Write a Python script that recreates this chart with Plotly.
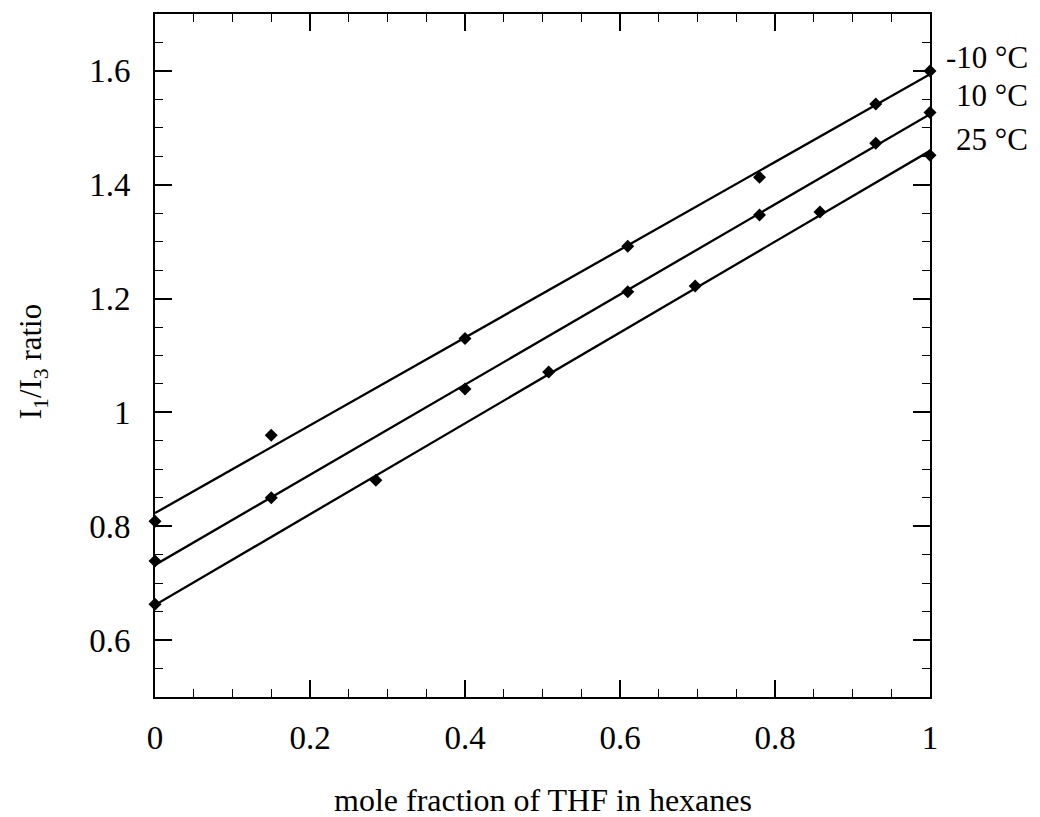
import numpy as np
import plotly.graph_objects as go

# mole fraction of THF in hexanes, and measured I1/I3 ratios per temperature
x_m10 = [0.0, 0.15, 0.40, 0.61, 0.78, 0.93, 1.0]
y_m10 = [0.809, 0.96, 1.13, 1.292, 1.413, 1.542, 1.60]

x_p10 = [0.0, 0.15, 0.40, 0.61, 0.78, 0.93, 1.0]
y_p10 = [0.739, 0.85, 1.041, 1.212, 1.347, 1.473, 1.527]

x_p25 = [0.0, 0.285, 0.508, 0.697, 0.858, 1.0]
y_p25 = [0.663, 0.881, 1.071, 1.222, 1.352, 1.452]

series_labels = ["-10 °C", "10 °C", "25 °C"]
label_y = [1.623, 1.556, 1.479]

x_tickvals = [0, 0.2, 0.4, 0.6, 0.8, 1.0]
x_ticktext = ["0", "0.2", "0.4", "0.6", "0.8", "1"]
y_tickvals = [0.6, 0.8, 1.0, 1.2, 1.4, 1.6]
y_ticktext = ["0.6", "0.8", "1", "1.2", "1.4", "1.6"]

FONT = "Liberation Serif"
fig = go.Figure()

fit_x = np.array([0.0, 1.0])
for xs, ys in [(x_m10, y_m10), (x_p10, y_p10), (x_p25, y_p25)]:
    slope, icpt = np.polyfit(xs, ys, 1)
    fig.add_trace(go.Scatter(x=fit_x, y=icpt + slope * fit_x, mode="lines",
                             line=dict(color="black", width=2.3),
                             hoverinfo="skip", cliponaxis=False))
    fig.add_trace(go.Scatter(x=xs, y=ys, mode="markers",
                             marker=dict(symbol="diamond", size=10, color="black"),
                             cliponaxis=False))

for text, yv in zip(series_labels, label_y):
    fig.add_annotation(x=1.129, xref="paper", y=yv, yref="y", text=text,
                       showarrow=False, xanchor="right", yanchor="middle",
                       font=dict(family=FONT, size=31, color="black"))

# axis titles
fig.add_annotation(x=0.5, xref="paper", y=-0.151, yref="paper",
                   text="mole fraction of THF in hexanes", showarrow=False,
                   xanchor="center", yanchor="middle",
                   font=dict(family=FONT, size=32, color="black"))
fig.add_annotation(x=-0.157, xref="paper", y=0.492, yref="paper",
                   text="I<sub>1</sub>/I<sub>3</sub> ratio", textangle=-90,
                   showarrow=False, xanchor="center", yanchor="middle",
                   font=dict(family=FONT, size=31, color="black"))

axis_common = dict(showline=True, linecolor="black", linewidth=2, mirror="ticks",
                   ticks="inside", ticklen=17, tickwidth=1.6, tickcolor="black",
                   showgrid=False, zeroline=False,
                   tickfont=dict(family=FONT, size=33, color="black"))

fig.update_xaxes(range=[0, 1], tickvals=x_tickvals, ticktext=x_ticktext,
                 ticklabelstandoff=10,
                 minor=dict(ticks="inside", ticklen=8, tickwidth=1.4,
                            tickcolor="black", dtick=0.05, tick0=0, showgrid=False),
                 **axis_common)
fig.update_yaxes(range=[0.5, 1.7], tickvals=y_tickvals, ticktext=y_ticktext,
                 ticklabelstandoff=16,
                 minor=dict(ticks="inside", ticklen=8, tickwidth=1.4,
                            tickcolor="black", dtick=0.05, tick0=0.5, showgrid=False),
                 **axis_common)

fig.update_layout(width=1040, height=817,
                  margin=dict(l=155, r=110, t=14, b=120),
                  paper_bgcolor="white", plot_bgcolor="white",
                  showlegend=False, font=dict(family=FONT, color="black"))

fig.write_html("out.html")
